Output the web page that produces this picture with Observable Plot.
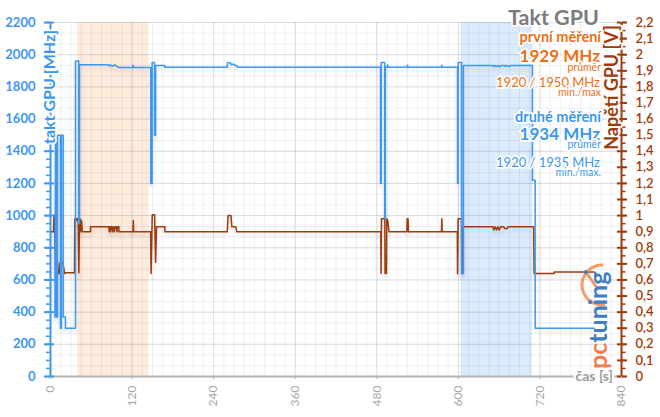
<!DOCTYPE html>
<html><head><meta charset="utf-8">
<script src="https://cdn.jsdelivr.net/npm/d3@7"></script>
<script src="https://cdn.jsdelivr.net/npm/@observablehq/plot@0.6"></script>
<style>
body{margin:0;background:#fff;}
#chart{width:660px;height:417px;}
</style></head><body><div id="chart"></div>
<script>
// GPU clock [s, MHz]
const clockSeries = [[6.5,370],[7.4,1500],[8.3,1500],[8.3,370],[10.3,370],[10.3,1500],[14.7,1500],[14.7,300],[16,300],[16,1500],[18.7,1500],[18.7,370],[22,370],[22,300],[36.8,300],[36.8,1960],[41.5,1960],[41.5,950],[42.6,950],[42.6,1937],[85,1937],[86,1930],[88,1937],[90,1930],[93,1930],[94,1937],[97,1930],[100,1920],[121,1920],[121.5,1935],[122.5,1920],[147.5,1920],[147.5,1200],[149.5,1200],[149.5,1952],[153,1952],[153,1500],[154.6,1500],[154.6,1933],[168,1933],[168,1922],[260,1922],[260.5,1950],[264.5,1950],[265.5,1940],[270,1940],[271,1933],[274.5,1933],[275,1922],[485.5,1922],[485.5,1200],[486.6,1200],[486.6,1952],[491.6,1952],[491.6,980],[492.6,980],[492.6,1922],[495.3,1922],[495.8,1936],[496.5,1922],[524.7,1922],[525.2,1935],[525.8,1922],[575.2,1922],[575.7,1935],[576.3,1922],[598.8,1922],[598.8,1200],[599.7,1200],[599.7,1952],[604.7,1952],[604.7,640],[607.4,640],[607.4,1933],[651,1933],[652,1925],[654,1933],[656,1925],[658,1933],[661,1925],[663,1933],[668,1933],[669,1927],[671,1933],[675,1927],[677,1933],[709,1933],[709,1220],[713,1220],[713,300],[800,300]];
// GPU voltage [s, V]
const voltSeries = [[0,0.9],[4.5,0.9],[5.2,1.0],[6,1.0],[7.4,0.64],[9,0.64],[10.3,0.71],[11.8,0.64],[13.2,0.64],[14,0.71],[17.7,0.71],[18.5,0.7],[20.6,0.64],[22,0.645],[35.3,0.645],[35.8,0.98],[37.5,0.98],[38.3,0.97],[39,0.98],[40.8,0.98],[41.7,0.645],[42.7,0.98],[43.5,0.98],[44.2,0.9],[45.6,0.97],[46.8,0.9],[58.9,0.9],[58.9,0.93],[85.8,0.93],[86.4,0.9],[87.6,0.93],[88.2,0.9],[89,0.93],[90.5,0.93],[91.2,0.9],[92.5,0.93],[94,0.9],[95,0.93],[97,0.93],[97.7,0.9],[98.5,0.93],[100.6,0.93],[100.6,0.9],[121.3,0.9],[121.8,0.97],[122.3,0.9],[147.2,0.9],[148,0.64],[149.7,1.005],[153.1,1.005],[154.6,0.71],[156,0.93],[168.3,0.93],[168.3,0.9],[260,0.9],[261.3,1.0],[265.5,1.0],[266.8,0.93],[272.5,0.93],[274,0.9],[485.9,0.9],[486.3,0.64],[486.9,0.98],[491.8,0.98],[492.2,0.64],[494.2,0.64],[494.7,0.98],[496,0.97],[498,0.9],[524.2,0.9],[524.7,0.98],[526,0.98],[526.5,0.9],[575.2,0.9],[575.7,0.98],[576.2,0.9],[598.5,0.9],[598.8,0.64],[599.7,0.98],[604.7,0.98],[605.2,0.64],[606.5,0.64],[607,0.93],[651,0.93],[652,0.91],[654,0.93],[656,0.91],[658,0.93],[660,0.91],[662,0.93],[667,0.93],[668,0.92],[672,0.92],[673,0.93],[710.7,0.93],[711.5,0.64],[741,0.64],[741,0.65],[800,0.65]];
// measured intervals [s]
const shadeStarts = [40, 604];
const shadeEnds = [145, 709];
const xTicks = [0,120,240,360,480,600,720,840];
const leftTicks = [0,200,400,600,800,1000,1200,1400,1600,1800,2000,2200];
const rightTicks = [0,0.1,0.2,0.3,0.4,0.5,0.6,0.7,0.8,0.9,1,1.1,1.2,1.3,1.4,1.5,1.6,1.7,1.8,1.9,2,2.1,2.2];
const titleText = "Takt GPU";
const firstLabel = ["první měření","1929 MHz","průměr","1920 / 1950 MHz","min./max"];
const secondLabel = ["druhé měření","1934 MHz","průměr","1920 / 1935 MHz","min./max."];

const BLUE = "#3d98f4", BROWN = "#a03a0a", ORANGE = "#ec6f16", TBLUE = "#3d97f0";
const shades = shadeStarts.map((s,i)=>({from:s,to:shadeEnds[i],color:i===0?"#fdebdc":"#dcebfc"}));
const xMinor = d3.range(0, 841, 15);
const yMinor = d3.range(0, 34).map(i => i*200/3);
const leftMinor = d3.range(0, 2201, 50);
const rightMajor = rightTicks.map(v => v*1000);
const rightMinor = d3.range(0, 2201, 50);
const fmtV = d => String(Math.round(d/100)/10).replace(".", ",");

const chart = Plot.plot({
  width: 660, height: 417,
  marginLeft: 50, marginRight: 39, marginTop: 22, marginBottom: 41,
  x: {domain: [0, 840]},
  y: {domain: [0, 2200]},
  style: {fontFamily: "Lato, sans-serif", background: "white", overflow: "visible"},
  marks: [
    Plot.rect(shades, {x1: d=>d.from, x2: d=>d.to, y1: () => 0, y2: () => 2200, fill: d=>d.color}),
    Plot.ruleX(xMinor, {stroke: "#1e2850", strokeOpacity: 0.07}),
    Plot.ruleX(xTicks, {stroke: "#1e2850", strokeOpacity: 0.1}),
    Plot.ruleY(yMinor, {stroke: "#1e2850", strokeOpacity: 0.07}),
    Plot.ruleY(leftTicks, {stroke: "#1e2850", strokeOpacity: 0.1}),
    Plot.line(voltSeries, {x: d=>d[0], y: d=>d[1]*1000, stroke: BROWN, strokeWidth: 1.5}),
    Plot.line(clockSeries, {x: d=>d[0], y: d=>d[1], stroke: BLUE, strokeWidth: 1.5}),
    // x axis
    Plot.ruleY([0], {stroke: "#b4b4b4", strokeWidth: 2}),
    Plot.axisX({ticks: xTicks, tickSize: 3, tickPadding: 6, tickRotate: -90, tickFormat: d => String(d), stroke: "#b4b4b4", fill: "#a8a8a8", fontSize: 12, label: null}),
    // left axis
    Plot.ruleX([0], {stroke: BLUE, strokeWidth: 2}),
    Plot.axisY({ticks: leftMinor, anchor: "left", tickSize: 4, tickFormat: () => "", stroke: BLUE, strokeWidth: 1.5, label: null}),
    Plot.axisY({ticks: leftTicks, anchor: "left", tickSize: 6, tickPadding: 9, tickFormat: d => String(d), stroke: BLUE, strokeWidth: 2, fill: "#3a96f2", fontSize: 13, fontWeight: "bold", label: null}),
    Plot.ruleY(leftTicks, {x1: () => 0, x2: () => 6, stroke: BLUE, strokeWidth: 2}),
    // right axis
    Plot.ruleX([840], {stroke: BROWN, strokeWidth: 2}),
    Plot.axisY({ticks: rightMinor, anchor: "right", tickSize: 3.5, tickFormat: () => "", stroke: BROWN, strokeWidth: 1.5, label: null}),
    Plot.axisY({ticks: rightMajor, anchor: "right", tickSize: 5, tickPadding: 9, tickFormat: fmtV, stroke: BROWN, strokeWidth: 2, fill: BROWN, fontSize: 13, fontWeight: 600, label: null}),
    Plot.ruleY(rightMajor, {x1: () => 834, x2: () => 840, stroke: BROWN, strokeWidth: 2})
  ]
});
document.getElementById("chart").appendChild(chart);

const svg = d3.select(chart);
svg.selectAll("g[aria-label='line'] path").style("filter", "drop-shadow(0px 3px 2px rgba(0,0,0,0.13))");

function label(x, y, txt, size, color, weight, anchor, rotate, extra) {
  const t = svg.append("text")
    .attr("transform", `translate(${x},${y})` + (rotate ? ` rotate(${rotate})` : ""))
    .attr("text-anchor", anchor || "end")
    .attr("font-family", "Lato, sans-serif")
    .attr("font-size", size)
    .attr("font-weight", weight || "normal")
    .attr("fill", color)
    .attr("stroke", "white").attr("stroke-width", 3.5).attr("stroke-linejoin", "round")
    .attr("paint-order", "stroke")
    .text(txt);
  if (extra) extra(t);
  return t;
}
// pctuning logo decoration (drawn under the texts)
const arc = d3.arc().innerRadius(18.5).outerRadius(21.5).startAngle(Math.PI*0.95).endAngle(Math.PI*2.02);
svg.append("path").attr("d", arc()).attr("transform", "translate(602,285)").attr("fill", "#f5915a").attr("opacity", 0.9);
svg.append("line").attr("x1", 586).attr("y1", 272).attr("x2", 597).attr("y2", 288).attr("stroke", "#f5915a").attr("stroke-width", 2.5);
svg.append("circle").attr("cx", 586).attr("cy", 272).attr("r", 2).attr("fill", "#3a7cc0");
const logo = svg.append("text").attr("transform", "translate(607,369) rotate(-90)")
  .attr("text-anchor", "start")
  .attr("font-family", "Lato, sans-serif").attr("font-size", 25).attr("font-weight", "bold");
logo.append("tspan").attr("fill", "#f08050").text("pc");
logo.append("tspan").attr("fill", "#3f7fc2").text("tuning");

// title & summary block
label(599, 25, titleText, 21.5, "#7b7b7b", "bold");
label(601, 42, firstLabel[0], 14.5, ORANGE, "bold");
label(600, 62, firstLabel[1], 17, ORANGE, "bold");
label(601, 71, firstLabel[2], 10.5, ORANGE, "normal");
label(600, 86.5, firstLabel[3], 13, ORANGE, "normal");
label(601, 95.5, firstLabel[4], 10.5, ORANGE, "normal");
label(601, 122, secondLabel[0], 14.5, TBLUE, "bold");
label(600, 139.5, secondLabel[1], 17, TBLUE, "bold");
label(601, 147.5, secondLabel[2], 10.5, TBLUE, "normal");
label(600, 167, secondLabel[3], 13, TBLUE, "normal");
label(601, 176, secondLabel[4], 10.5, TBLUE, "normal");
// axis titles
label(49, 87, "takt GPU [MHz]", 16, "#3a96f2", "bold", "middle", -90, t => t.attr("dy", "0.36em"));
label(611.5, 87.5, "Napětí GPU [V]", 18, BROWN, "bold", "middle", -90, t => t.attr("dy", "0.36em"));
label(613, 376, "čas [s]", 14, "#9a9a9a", "bold", "end", 0, t => t.attr("dy", "0.36em").attr("stroke-width", 5));
</script>
</body></html>
